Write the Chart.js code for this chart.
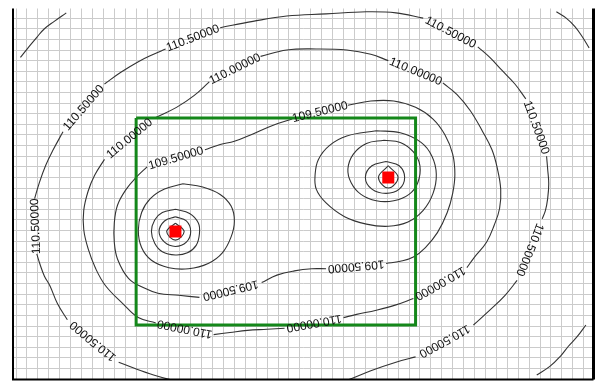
<!DOCTYPE html>
<html>
<head>
<meta charset="utf-8">
<script src="https://cdn.jsdelivr.net/npm/chart.js@4.4.1/dist/chart.umd.min.js"></script>
<style>
  html, body { margin: 0; padding: 0; background: #ffffff; }
  #wrap { width: 602px; height: 388px; }
</style>
</head>
<body>
<div id="wrap"><canvas id="map" width="602" height="388"></canvas></div>
<script>
// Model coordinates in metres: x east, y south from the grid origin; 10 m cells.
const xExtent = [7.2, 539];
const yExtent = [0.9, 350.3];
const cellSize = 10;

// Pumping wells
const wells = [[156, 211], [351, 160]];

// Site boundary
const siteBoundary = [[120, 104], [376, 104], [376, 299], [120, 299], [120, 104]];

// Head contours (m). Each labelled line is split into pieces; a label sits in each break.
const head111NW = [[14, 47], [21, 38], [29, 28], [36, 20], [45, 13], [56, 5]];
const head111NE = [[505, 4], [514, 10], [522, 18], [529, 28], [535, 38]];
const head111SE = [[487, 346], [499, 338], [509, 328], [516, 319], [524, 310], [532, 299]];

const head1105 = [
  [[57, 294], [48, 279], [41, 262], [36, 253], [32, 242], [29, 232]],
  [[27, 180], [31, 166], [37, 149], [44, 134], [53, 117]],
  [[91, 72], [106, 61], [122, 51], [136, 44], [147, 39]],
  [[197, 19], [227, 13], [258, 8], [294, 6], [331, 4], [358, 5], [383, 10]],
  [[433, 37], [444, 47], [455, 59], [467, 72], [477, 86]],
  [[496, 140], [497, 152], [498, 166], [497, 180], [495, 191], [492, 199]],
  [[469, 257], [458, 271], [444, 285], [429, 299]],
  [[376, 329], [358, 334], [335, 342], [313, 351], [290, 358], [260, 364], [225, 366],
   [190, 362], [160, 353], [136, 346], [119, 340], [104, 334]]
];

const head1100 = [
  [[234, 46], [258, 40], [285, 39], [313, 40], [335, 44], [351, 50]],
  [[401, 71], [414, 82], [426, 97], [437, 116], [446, 134], [451, 152], [454, 171],
   [453, 189], [448, 205], [441, 221], [430, 235], [423, 245]],
  [[374, 274], [358, 280], [340, 285], [322, 289], [310, 292]],
  [[256, 302], [240, 303], [222, 304], [206, 306], [191, 308]],
  [[138, 297], [122, 292], [108, 279], [92, 262], [83, 246], [76, 227], [72, 209],
   [72, 191], [76, 173], [82, 158], [91, 143]],
  [[137, 104], [157, 94], [173, 83], [187, 70]]
];

const head1095 = [
  [[183, 134], [197, 129], [210, 126], [227, 119], [245, 111], [263, 105]],
  [[314, 92], [335, 88], [356, 88], [376, 94], [392, 105], [403, 120], [410, 138],
   [412, 157], [410, 175], [405, 193], [396, 212], [385, 226], [374, 235], [362, 239], [349, 241]],
  [[294, 246], [281, 246], [265, 248], [249, 252], [235, 259]],
  [[178, 273], [159, 271], [140, 269], [127, 264], [113, 255], [103, 237], [100, 221],
   [100, 203], [103, 186], [111, 171], [120, 160], [130, 150]]
];

// Drawdown rings around the west well
const west1090 = [[163, 166], [181, 169], [197, 176], [207, 187], [210, 201], [207, 216], [199, 231],
  [186, 241], [168, 246], [150, 245], [134, 238], [125, 226], [122, 210], [125, 193], [133, 180],
  [146, 171], [163, 166]];
const west1085 = [[156, 190], [169, 194], [177, 203], [178, 213], [175, 224], [167, 231], [156, 233],
  [144, 230], [137, 222], [134, 211], [137, 200], [144, 193], [156, 190]];
const west1080 = [[156, 197], [166, 201], [170, 211], [166, 221], [156, 225], [146, 221], [141, 211],
  [146, 201], [156, 197]];
const west1075 = [[156, 203], [164, 211], [156, 219], [148, 211], [156, 203]];

// Drawdown rings around the east well
const east1090 = [[340, 116], [362, 118], [381, 127], [391, 140], [395, 157], [392, 175], [383, 191],
  [369, 202], [351, 206], [331, 204], [311, 197], [294, 184], [285, 171], [284, 157], [287, 143],
  [297, 130], [313, 121], [340, 116]];
const east1085 = [[347, 125], [362, 127], [374, 136], [380, 149], [378, 165], [370, 176], [356, 182],
  [340, 182], [326, 176], [317, 165], [314, 152], [319, 138], [331, 128], [347, 125]];
const east1080 = [[349, 145], [361, 149], [366, 160], [361, 171], [349, 175], [336, 171], [330, 160],
  [336, 149], [349, 145]];
const east1075 = [[351, 149], [360, 160], [351, 170], [342, 160], [351, 149]];

const contours = [
  { level: 111.0, labelled: false, closed: false, pieces: [head111NW] },
  { level: 111.0, labelled: false, closed: false, pieces: [head111NE] },
  { level: 111.0, labelled: false, closed: false, pieces: [head111SE] },
  { level: 110.5, labelled: true, closed: true, pieces: head1105 },
  { level: 110.0, labelled: true, closed: true, pieces: head1100 },
  { level: 109.5, labelled: true, closed: true, pieces: head1095 },
  { level: 109.0, labelled: false, closed: true, pieces: [west1090] },
  { level: 108.5, labelled: false, closed: true, pieces: [west1085] },
  { level: 108.0, labelled: false, closed: true, pieces: [west1080] },
  { level: 107.5, labelled: false, closed: true, pieces: [west1075] },
  { level: 109.0, labelled: false, closed: true, pieces: [east1090] },
  { level: 108.5, labelled: false, closed: true, pieces: [east1085] },
  { level: 108.0, labelled: false, closed: true, pieces: [east1080] },
  { level: 107.5, labelled: false, closed: true, pieces: [east1075] }
];

const toXY = pts => pts.map(p => ({ x: p[0], y: p[1] }));

const datasets = [
  {
    label: 'Wells',
    data: toXY(wells),
    showLine: false,
    pointStyle: 'rect',
    pointRadius: 8.5,
    backgroundColor: '#ff0000',
    borderColor: '#e00000',
    borderWidth: 0,
    order: 0
  },
  {
    label: 'Site boundary',
    data: toXY(siteBoundary),
    showLine: true,
    pointRadius: 0,
    borderColor: '#14871a',
    borderWidth: 3,
    tension: 0,
    order: 1
  }
];

contours.forEach(c => {
  c.pieces.forEach(piece => {
    datasets.push({
      label: c.level.toFixed(5),
      data: toXY(piece),
      showLine: true,
      pointRadius: 0,
      borderColor: '#333333',
      borderWidth: 1.1,
      tension: 0.4,
      order: 2
    });
  });
});

// Contour value labels, written along the line in each break
const contourLabels = {
  id: 'contourLabels',
  afterDatasetsDraw(chart) {
    const { ctx, chartArea, scales } = chart;
    ctx.save();
    ctx.beginPath();
    ctx.rect(chartArea.left, chartArea.top, chartArea.right - chartArea.left, chartArea.bottom - chartArea.top);
    ctx.clip();
    ctx.font = '12px "Liberation Sans", Arial, sans-serif';
    ctx.fillStyle = '#111111';
    ctx.textAlign = 'center';
    ctx.textBaseline = 'middle';
    contours.forEach(c => {
      if (!c.labelled) return;
      const n = c.pieces.length;
      const count = c.closed ? n : n - 1;
      for (let i = 0; i < count; i++) {
        const from = c.pieces[i][c.pieces[i].length - 1];
        const to = c.pieces[(i + 1) % n][0];
        const ax = scales.x.getPixelForValue(from[0]);
        const ay = scales.y.getPixelForValue(from[1]);
        const bx = scales.x.getPixelForValue(to[0]);
        const by = scales.y.getPixelForValue(to[1]);
        ctx.save();
        ctx.translate((ax + bx) / 2, (ay + by) / 2);
        ctx.rotate(Math.atan2(by - ay, bx - ax));
        ctx.fillText(c.level.toFixed(5), 0, 0);
        ctx.restore();
      }
    });
    ctx.restore();
  }
};

// Map frame on the west, east and south edges
const mapFrame = {
  id: 'mapFrame',
  afterDraw(chart) {
    const { ctx, chartArea: a } = chart;
    ctx.save();
    ctx.strokeStyle = '#000000';
    ctx.lineWidth = 2;
    ctx.beginPath();
    ctx.moveTo(a.left, a.top);
    ctx.lineTo(a.left, a.bottom);
    ctx.lineTo(a.right, a.bottom);
    ctx.stroke();
    ctx.lineWidth = 3;
    ctx.beginPath();
    ctx.moveTo(a.right, a.top);
    ctx.lineTo(a.right, a.bottom);
    ctx.stroke();
    ctx.restore();
  }
};

const gridStyle = {
  display: true,
  color: '#cbcbcb',
  lineWidth: 1,
  drawTicks: false
};

new Chart(document.getElementById('map'), {
  type: 'scatter',
  data: { datasets },
  options: {
    responsive: false,
    animation: false,
    events: [],
    layout: { padding: { left: 13, top: 5, right: 2, bottom: 2 } },
    plugins: { legend: { display: false }, tooltip: { enabled: false } },
    scales: {
      x: {
        type: 'linear',
        min: xExtent[0],
        max: xExtent[1],
        grid: gridStyle,
        border: { display: false },
        ticks: { display: false, stepSize: cellSize, includeBounds: false }
      },
      y: {
        type: 'linear',
        reverse: true,
        min: yExtent[0],
        max: yExtent[1],
        grid: gridStyle,
        border: { display: false },
        ticks: { display: false, stepSize: cellSize, includeBounds: false }
      }
    }
  },
  plugins: [contourLabels, mapFrame]
});
</script>
</body>
</html>
